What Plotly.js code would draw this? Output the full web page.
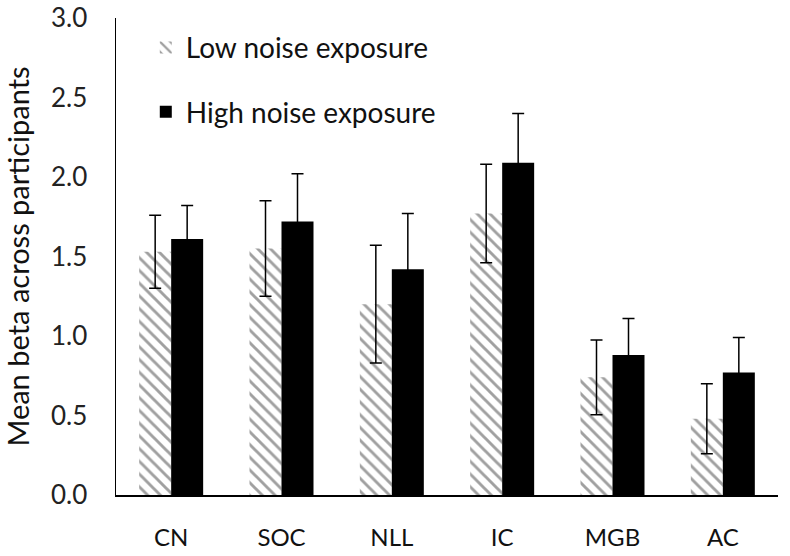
<!DOCTYPE html>
<html>
<head>
<meta charset="utf-8">
<script src="https://cdn.plot.ly/plotly-3.0.1.min.js"></script>
<style>html,body{margin:0;padding:0;background:#fff;}#chart{width:790px;height:556px;}</style>
</head>
<body>
<div id="chart"></div>
<script>
const categories = ["CN", "SOC", "NLL", "IC", "MGB", "AC"];
const lowNoise = [1.53, 1.55, 1.20, 1.77, 0.74, 0.48];
const lowNoiseErr = [0.23, 0.30, 0.37, 0.31, 0.235, 0.22];
const highNoise = [1.61, 1.72, 1.42, 2.09, 0.88, 0.77];
const highNoiseErr = [0.21, 0.30, 0.35, 0.31, 0.23, 0.22];
const yTickVals = [0, 0.5, 1.0, 1.5, 2.0, 2.5, 3.0];

const font = "Lato, 'Open Sans', sans-serif";

const traces = [
  {
    type: "bar",
    name: "Low noise exposure",
    legendgroup: "low",
    x: categories,
    y: lowNoise,
    marker: {
      color: "white",
      line: {width: 0},
      pattern: {shape: "\\", fgcolor: "#a0a0a0", bgcolor: "white", size: 9, solidity: 0.32}
    },
    error_y: {type: "data", array: lowNoiseErr, visible: true, color: "#000", thickness: 1.5, width: 6}
  },
  {
    type: "bar",
    name: "High noise exposure",
    legendgroup: "high",
    x: categories,
    y: highNoise,
    marker: {color: "#000", line: {width: 0}},
    error_y: {type: "data", array: highNoiseErr, visible: true, color: "#000", thickness: 1.5, width: 6}
  }
];

const layout = {
  width: 790,
  height: 556,
  margin: {l: 116, r: 12, t: 18, b: 61},
  paper_bgcolor: "#fff",
  plot_bgcolor: "#fff",
  barmode: "group",
  bargap: 0.42,
  bargroupgap: 0,
  font: {family: font, color: "#222"},
  showlegend: true,
  legend: {
    x: 0.045, y: 0.99, xanchor: "left", yanchor: "top",
    bgcolor: "rgba(0,0,0,0)",
    font: {family: font, size: 28, color: "#111"},
    tracegroupgap: 25,
    traceorder: "grouped"
  },
  xaxis: {
    type: "category",
    showline: true, linecolor: "#000", linewidth: 1.5,
    ticks: "", showgrid: false, zeroline: false,
    tickfont: {family: font, size: 24, color: "#111"},
    ticklabelstandoff: 21
  },
  yaxis: {
    range: [0, 3],
    tickvals: yTickVals,
    tickformat: ".1f",
    showline: true, linecolor: "#000", linewidth: 1.5,
    ticks: "", showgrid: false, zeroline: false,
    tickfont: {family: font, size: 26, color: "#222"},
    ticklabelstandoff: 22,
    title: {text: "Mean beta across participants", font: {family: font, size: 29, color: "#111"}, standoff: 15}
  }
};

Plotly.newPlot("chart", traces, layout, {displayModeBar: false, staticPlot: true});
</script>
</body>
</html>
